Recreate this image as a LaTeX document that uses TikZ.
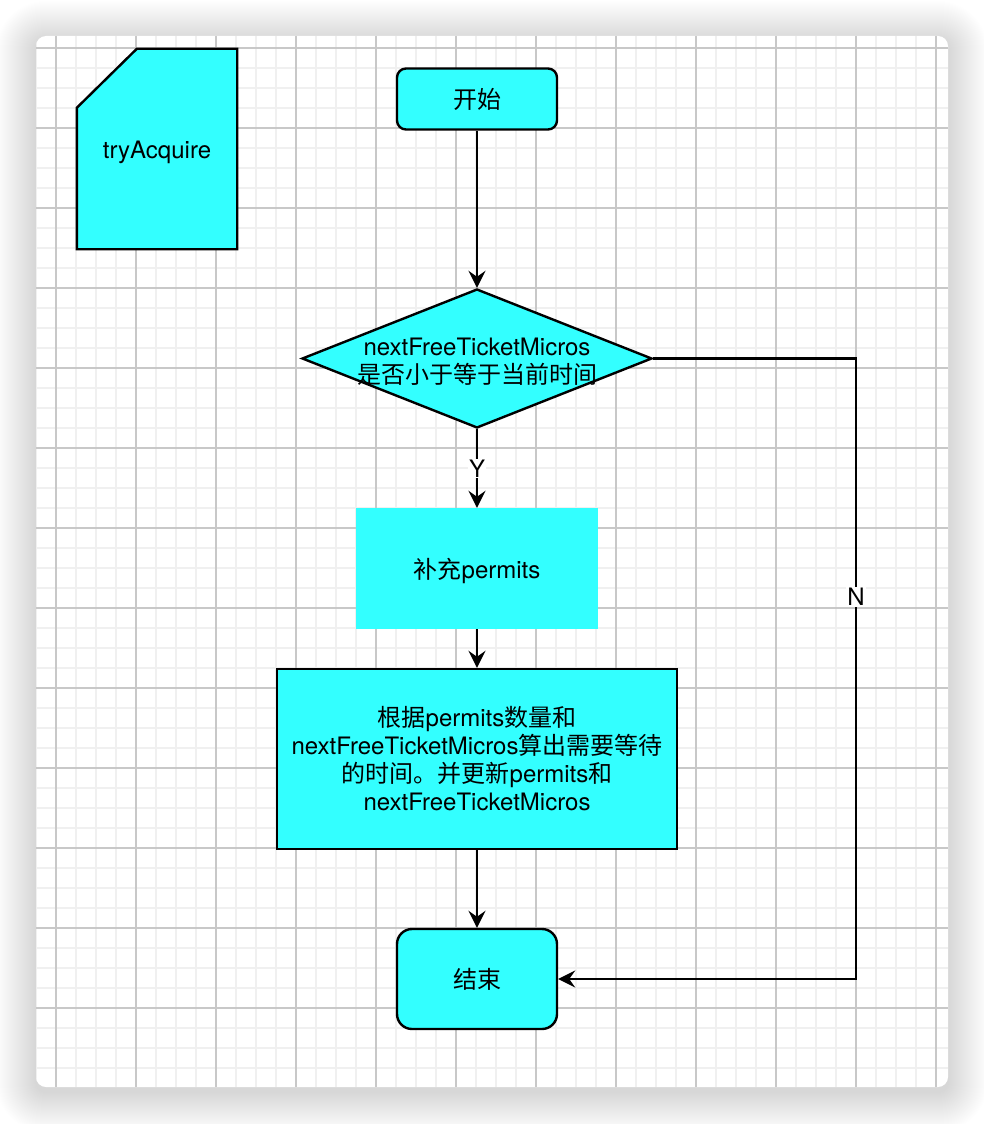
\documentclass[tikz,border=0pt]{standalone}
\usepackage{fontspec}
\setmainfont{TeX Gyre Heros}
\newfontfamily\cjkf{Noto Sans CJK SC}
\usetikzlibrary{arrows.meta,shapes.geometric}
\definecolor{boxcyan}{HTML}{33FFFF}
\definecolor{gridminor}{HTML}{F0F0F0}
\definecolor{gridmajor}{HTML}{C8C8C8}
\pgfdeclarelayer{paper}
\pgfdeclarelayer{shapes}
\pgfsetlayers{paper,shapes,main}

\begin{document}
\begin{tikzpicture}[x=1pt,y=-1pt,
  every node/.style={font=\fontsize{24}{28}\selectfont},
  outline/.style={draw=black, line width=2.4pt, fill=boxcyan},
  terminal/.style={outline, inner sep=0pt, minimum width=160pt, align=center},
  flowline/.style={line width=2.4pt, -{Stealth[length=17pt,width=17pt,inset=6pt]}},
  edgelabel/.style={fill=white, inner sep=1pt},
  inlabel/.style={align=center, yshift=-3pt}]

\useasboundingbox (0,0) rectangle (984,1124);

% paper card with soft shadow and grid
\begin{pgfonlayer}{paper}
  \foreach \k [evaluate=\k as \r using 10+\k] in {1,...,40}
    \fill[black, opacity=0.0055, rounded corners=\r pt]
      (36-\k, 41-\k) rectangle (948+\k, 1092+\k);
  \fill[white, rounded corners=10pt] (36,36) rectangle (948,1087);
  \begin{scope}
    \clip[rounded corners=10pt] (36,36) rectangle (948,1087);
    \foreach \x in {36,56,...,948}
      \draw[gridminor, line width=2pt] (\x,36) -- (\x,1087);
    \foreach \y in {48,68,...,1087}
      \draw[gridminor, line width=2pt] (36,\y) -- (948,\y);
    \foreach \x in {56,136,...,948}
      \draw[gridmajor, line width=1.2pt] (\x,36) -- (\x,1087);
    \foreach \y in {48,128,...,1087}
      \draw[gridmajor, line width=1.2pt] (36,\y) -- (948,\y);
  \end{scope}
\end{pgfonlayer}

% title card with a cut corner
\node[inner sep=0pt, minimum width=160pt, minimum height=200pt,
  label={[inlabel]center:tryAcquire}] (doc) at (157,149) {};
\begin{pgfonlayer}{shapes}
  \draw[outline, line join=miter]
    (doc.south west) -- ([yshift=-59pt]doc.north west) -- ([xshift=60pt]doc.north west)
    -- (doc.north east) -- (doc.south east) -- cycle;
\end{pgfonlayer}

% flow nodes
\node[terminal, rounded corners=9pt, minimum height=61pt] (start) at (477,99) {{\cjkf 开始}};
\node[diamond, outline, inner sep=0pt, minimum width=350pt, minimum height=139pt,
  label={[inlabel]center:nextFreeTicketMicros\\{\cjkf 是否小于等于当前时间}}]
  (cond) at (477,358.5) {};
\node[fill=boxcyan, inner sep=0pt, minimum width=242pt, minimum height=121pt,
  label={[inlabel, yshift=1pt]center:{\cjkf 补充}permits}]
  (refill) at (477,568.5) {};
\node[outline, inner sep=0pt, minimum width=400pt, minimum height=180pt, align=center]
  (calc) at (477,759)
  {{\cjkf 根据}permits{\cjkf 数量和}\\nextFreeTicketMicros{\cjkf 算出需要等待}\\{\cjkf 的时间。并更新}permits{\cjkf 和}\\nextFreeTicketMicros};
\node[terminal, rounded corners=15pt, minimum height=100pt] (end) at (477,979) {{\cjkf 结束}};

% connectors
\coordinate (nturn) at (856,358.5);
\draw[flowline] (start.south) -- (cond.north);
\draw[flowline] (cond.south) -- node[edgelabel]{Y} (refill.north);
\draw[flowline] (refill.south) -- (calc.north);
\draw[flowline] (calc.south) -- (end.north);
\draw[flowline, line join=miter] (cond.east) -- (nturn)
  -- node[edgelabel, pos=0.384]{N} (nturn |- end.east) -- (end.east);

\end{tikzpicture}
\end{document}
